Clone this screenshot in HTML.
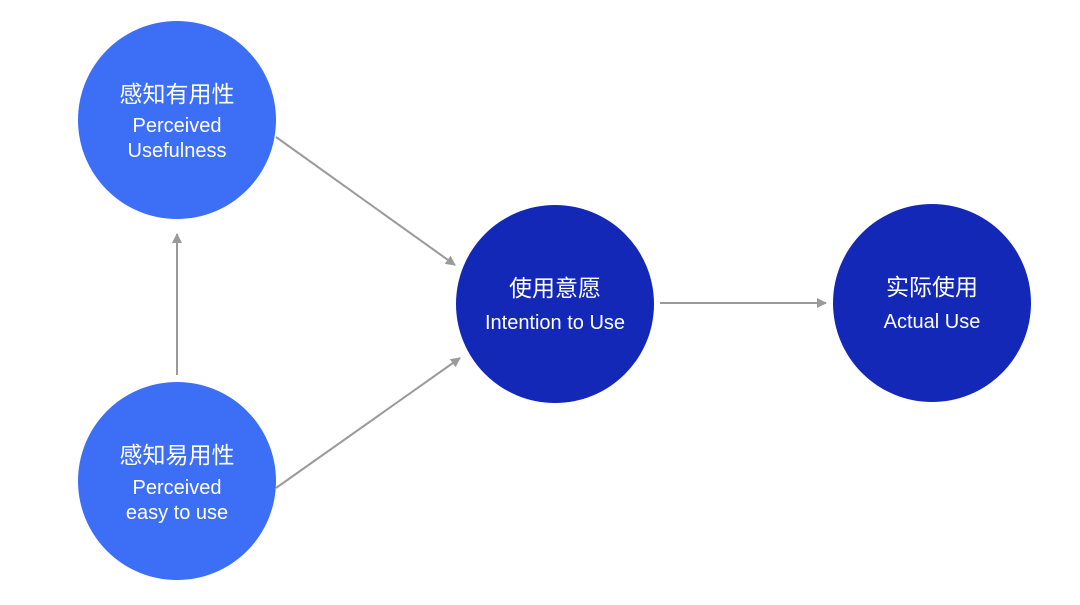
<!DOCTYPE html>
<html><head><meta charset="utf-8"><style>
body{margin:0;background:#fff;}
text{font-family:"Liberation Sans","Noto Sans CJK SC",sans-serif;fill:#fff;text-anchor:middle;}
</style></head><body>
<svg width="1080" height="600" viewBox="0 0 1080 600" xmlns="http://www.w3.org/2000/svg">
<defs><marker id="a" markerWidth="10" markerHeight="10" refX="9" refY="5" orient="auto" markerUnits="userSpaceOnUse"><path d="M0,0 L10,5 L0,10 z" fill="#9a9a9a"/></marker></defs>
<g stroke="#9a9a9a" stroke-width="2" fill="none">
<line x1="276" y1="137" x2="455" y2="265" marker-end="url(#a)"/>
<line x1="276" y1="488" x2="460" y2="358" marker-end="url(#a)"/>
<line x1="177" y1="375" x2="177" y2="234" marker-end="url(#a)"/>
<line x1="660" y1="303" x2="826" y2="303" marker-end="url(#a)"/>
</g>
<circle cx="177" cy="120" r="99" fill="#3d6ff6"/>
<circle cx="177" cy="481" r="99" fill="#3d6ff6"/>
<circle cx="555" cy="304" r="99" fill="#1428b8"/>
<circle cx="932" cy="303" r="99" fill="#1428b8"/>
<text x="177" y="102" font-size="23">感知有用性</text>
<text x="177" y="132" font-size="20">Perceived</text>
<text x="177" y="157" font-size="20">Usefulness</text>
<text x="177" y="463" font-size="23">感知易用性</text>
<text x="177" y="494" font-size="20">Perceived</text>
<text x="177" y="519" font-size="20">easy to use</text>
<text x="555" y="296" font-size="23">使用意愿</text>
<text x="555" y="329" font-size="20">Intention to Use</text>
<text x="932" y="295" font-size="23">实际使用</text>
<text x="932" y="328" font-size="20">Actual Use</text>
</svg>
</body></html>
